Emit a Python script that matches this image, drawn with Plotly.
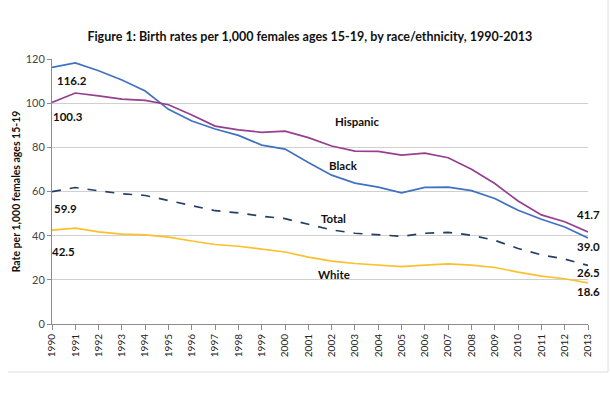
import plotly.graph_objects as go

years = list(range(1990, 2014))
black = [116.2, 118.2, 114.7, 110.5, 105.5, 97.2, 91.9, 88.3, 85.4, 81.0, 79.2, 73.1,
         67.4, 63.8, 62.0, 59.4, 61.9, 62.0, 60.4, 56.8, 51.5, 47.4, 43.9, 39.0]
hispanic = [100.3, 104.6, 103.3, 101.8, 101.3, 99.3, 94.6, 89.6, 87.9, 86.8, 87.3, 84.4,
            80.6, 78.3, 78.2, 76.5, 77.4, 75.3, 70.1, 63.6, 55.7, 49.4, 46.3, 41.7]
total = [59.9, 61.8, 60.3, 59.0, 58.2, 56.0, 53.5, 51.3, 50.3, 48.8, 47.7, 45.0,
         42.6, 41.1, 40.5, 39.7, 41.1, 41.5, 40.2, 37.9, 34.2, 31.3, 29.4, 26.5]
white = [42.5, 43.4, 41.7, 40.7, 40.4, 39.3, 37.6, 36.0, 35.2, 34.0, 32.6, 30.3,
         28.5, 27.4, 26.7, 26.0, 26.7, 27.2, 26.7, 25.6, 23.5, 21.7, 20.5, 18.6]

colors = {"Black": "#3f72c0", "Hispanic": "#963e90", "Total": "#243f66", "White": "#fbc02d"}
dashes = {"Black": "solid", "Hispanic": "solid", "Total": "dash", "White": "solid"}
data = {"Black": black, "Hispanic": hispanic, "Total": total, "White": white}

FONT = "Lato"

fig = go.Figure()
for name in ["White", "Total", "Black", "Hispanic"]:
    fig.add_trace(go.Scatter(
        x=years, y=data[name], mode="lines", name=name,
        line=dict(color=colors[name], width=1.7, dash=dashes[name]),
        showlegend=False, hoverinfo="x+y+name"))

name_labels = [("Hispanic", 2003.1, 91.5), ("Black", 2002.5, 71.6),
               ("Total", 2002.1, 48.0), ("White", 2002.1, 22.6)]
start_labels = [(black[0], 1990.85, 110.2), (hispanic[0], 1990.7, 93.8),
                (total[0], 1990.6, 52.5), (white[0], 1990.5, 33.0)]
end_labels = [(hispanic[-1], 2013.0, 49.8), (black[-1], 2013.0, 35.3),
              (total[-1], 2013.0, 23.5), (white[-1], 2013.0, 14.5)]

ann = []
for t, x, y in name_labels:
    ann.append(dict(x=x, y=y, xref="x", yref="y", text=f"<b>{t}</b>", showarrow=False,
                    font=dict(family=FONT, size=11.5, color="#111111")))
for v, x, y in start_labels + end_labels:
    ann.append(dict(x=x, y=y, xref="x", yref="y", text=f"<b>{v:.1f}</b>", showarrow=False,
                    font=dict(family=FONT, size=11.5, color="#111111")))

fig.update_layout(
    width=610, height=399,
    margin=dict(l=52, r=22, t=59, b=75),
    paper_bgcolor="white", plot_bgcolor="white",
    title=dict(text="<b>Figure 1: Birth rates per 1,000 females ages 15-19, by race/ethnicity, 1990-2013</b>",
               x=0.508, xanchor="center", y=1 - 37 / 399, yanchor="middle",
               font=dict(family=FONT, size=12.5, color="#111111")),
    font=dict(family=FONT, color="#333333"),
    annotations=ann,
    xaxis=dict(range=[1990, 2013], tickmode="array", tickvals=years,
               ticktext=[str(y) for y in years], tickangle=-90, automargin=False,
               showgrid=False, zeroline=False, showline=True, linecolor="#8c8c8c", linewidth=1,
               ticks="outside", ticklen=5, tickcolor="#8c8c8c",
               tickfont=dict(family=FONT, size=10, color="#222222")),
    yaxis=dict(range=[0, 120], tickvals=[0, 20, 40, 60, 80, 100, 120], automargin=False,
               showgrid=True, gridcolor="#d0d0d0", gridwidth=1, zeroline=False,
               showline=True, linecolor="#8c8c8c", linewidth=1,
               ticks="outside", ticklen=4, tickcolor="#8c8c8c",
               tickfont=dict(family=FONT, size=11, color="#444444"),
               title=dict(text="<b>Rate per 1,000 females ages 15-19</b>", standoff=2,
                          font=dict(family=FONT, size=10.5, color="#111111"))),
    shapes=[
        dict(type="line", xref="paper", yref="paper",
             x0=(8 - 52) / 536, x1=(608 - 52) / 536, y0=(324 - 372) / 265, y1=(324 - 372) / 265,
             line=dict(color="#dcdcdc", width=1)),
        dict(type="line", xref="paper", yref="paper",
             x0=(608 - 52) / 536, x1=(608 - 52) / 536, y0=(324 - 372) / 265, y1=(324 - 0) / 265,
             line=dict(color="#dcdcdc", width=1)),
    ],
)

fig.write_html("out.html", config={"displayModeBar": False},
               post_script="document.body.style.margin='0';document.body.style.overflow='hidden';")
